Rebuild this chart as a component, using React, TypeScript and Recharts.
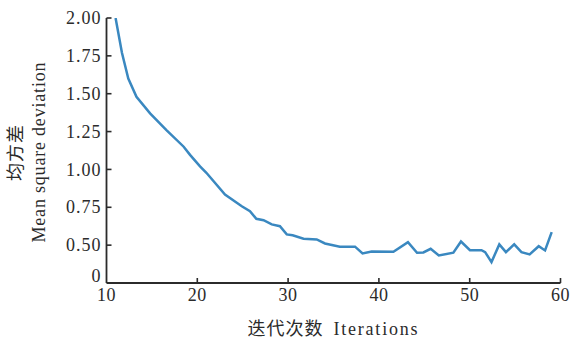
import { Line, LineChart, XAxis, YAxis } from "recharts"

const iterations = [
  11, 11.7, 12.4, 13.3, 14.8, 16.6, 18.5, 19.2, 20.3, 21, 23.05, 24.9, 25.8, 26.5, 27.3, 28.2, 29.1,
  29.85, 30.5, 31.7, 33.15, 34.06, 35.7, 37.37, 38.2, 39.2, 41.6, 43.2, 44.2, 44.9, 45.7, 46.6,
  48.2, 49.04, 50.03, 51.3, 51.7, 52.4, 53.26, 53.99, 54.9, 55.7, 56.6, 57.6, 58.3, 59.03,
]
const deviation = [
  2.0, 1.77, 1.6, 1.48, 1.37, 1.26, 1.15, 1.096, 1.02, 0.978, 0.834, 0.757, 0.724, 0.674, 0.665,
  0.637, 0.625, 0.571, 0.565, 0.542, 0.538, 0.511, 0.49, 0.49, 0.445, 0.458, 0.456, 0.52, 0.45,
  0.452, 0.476, 0.432, 0.45, 0.524, 0.467, 0.467, 0.454, 0.388, 0.505, 0.454, 0.505, 0.454, 0.439,
  0.493, 0.465, 0.586,
]
const xTicks = [10, 20, 30, 40, 50, 60]
const yTicks = [0.3, 0.5, 0.75, 1, 1.25, 1.5, 1.75, 2]
const yTickLabels = ["0", "0.50", "0.75", "1.00", "1.25", "1.50", "1.75", "2.00"]

const data = iterations.map((x, i) => ({ x, y: deviation[i] }))

const ink = "#2b2b2b"
const latin = { fontFamily: "Liberation Serif", fill: ink }
const cjk = { fontFamily: "Noto Sans CJK SC", fill: ink }

function XTick({ x, y, payload }: any) {
  return (
    <g>
      {payload.value !== 10 && <line x1={x} x2={x} y1={y} y2={y - 5} stroke={ink} strokeWidth={1.6} />}
      <text x={x} y={y + 18} textAnchor="middle" fontSize={18} style={latin} letterSpacing={0.5}>
        {payload.value}
      </text>
    </g>
  )
}

function YTick({ x, y, payload }: any) {
  const i = yTicks.indexOf(payload.value)
  return (
    <g>
      {i > 0 && <line x1={x} x2={x + 5} y1={y} y2={y} stroke={ink} strokeWidth={1.6} />}
      <text x={x - 5} y={y} dy="0.34em" textAnchor="end" fontSize={18} style={latin} letterSpacing={1}>
        {yTickLabels[i]}
      </text>
    </g>
  )
}

function YTitle({ viewBox }: any) {
  const cy = viewBox.y + viewBox.height / 2 + 2
  return (
    <g textAnchor="middle">
      <text x={16} y={cy} dy="0.35em" fontSize={18} style={cjk} letterSpacing={1} transform={`rotate(-90 16 ${cy})`}>
        均方差
      </text>
      <text
        x={38.5}
        y={cy}
        dy="0.35em"
        fontSize={18}
        style={latin}
        transform={`rotate(-90 38.5 ${cy})`}
        textLength={180}
        lengthAdjust="spacing"
      >
        Mean square deviation
      </text>
    </g>
  )
}

function XTitle({ viewBox }: any) {
  const cx = viewBox.x + viewBox.width / 2
  return (
    <g>
      <text x={cx - 10} y={335} textAnchor="end" fontSize={18} style={cjk} letterSpacing={1}>
        迭代次数
      </text>
      <text x={cx} y={335} fontSize={18} style={latin} textLength={84} lengthAdjust="spacing">
        Iterations
      </text>
    </g>
  )
}

export default function App() {
  return (
    <div style={{ position: "absolute", left: 0, top: 0, width: 584, height: 342, background: "#fff" }}>
      <LineChart width={584} height={342} data={data} margin={{ top: 18, right: 23.5, bottom: 0, left: 0 }}>
        <XAxis
          dataKey="x"
          type="number"
          domain={[10, 60]}
          ticks={xTicks}
          height={59}
          tickSize={0}
          tickMargin={0}
          tickLine={false}
          axisLine={{ stroke: ink, strokeWidth: 1.8 }}
          tick={<XTick />}
          label={{ content: <XTitle /> }}
          interval={0}
        />
        <YAxis
          type="number"
          domain={[0.25, 2]}
          ticks={yTicks}
          width={106.5}
          tickSize={0}
          tickMargin={0}
          tickLine={false}
          axisLine={{ stroke: ink, strokeWidth: 1.8 }}
          tick={<YTick />}
          label={{ content: <YTitle /> }}
          interval={0}
          allowDataOverflow
        />
        <Line
          type="linear"
          dataKey="y"
          stroke="#3a88c0"
          strokeWidth={2.5}
          dot={false}
          isAnimationActive={false}
        />
      </LineChart>
    </div>
  )
}
